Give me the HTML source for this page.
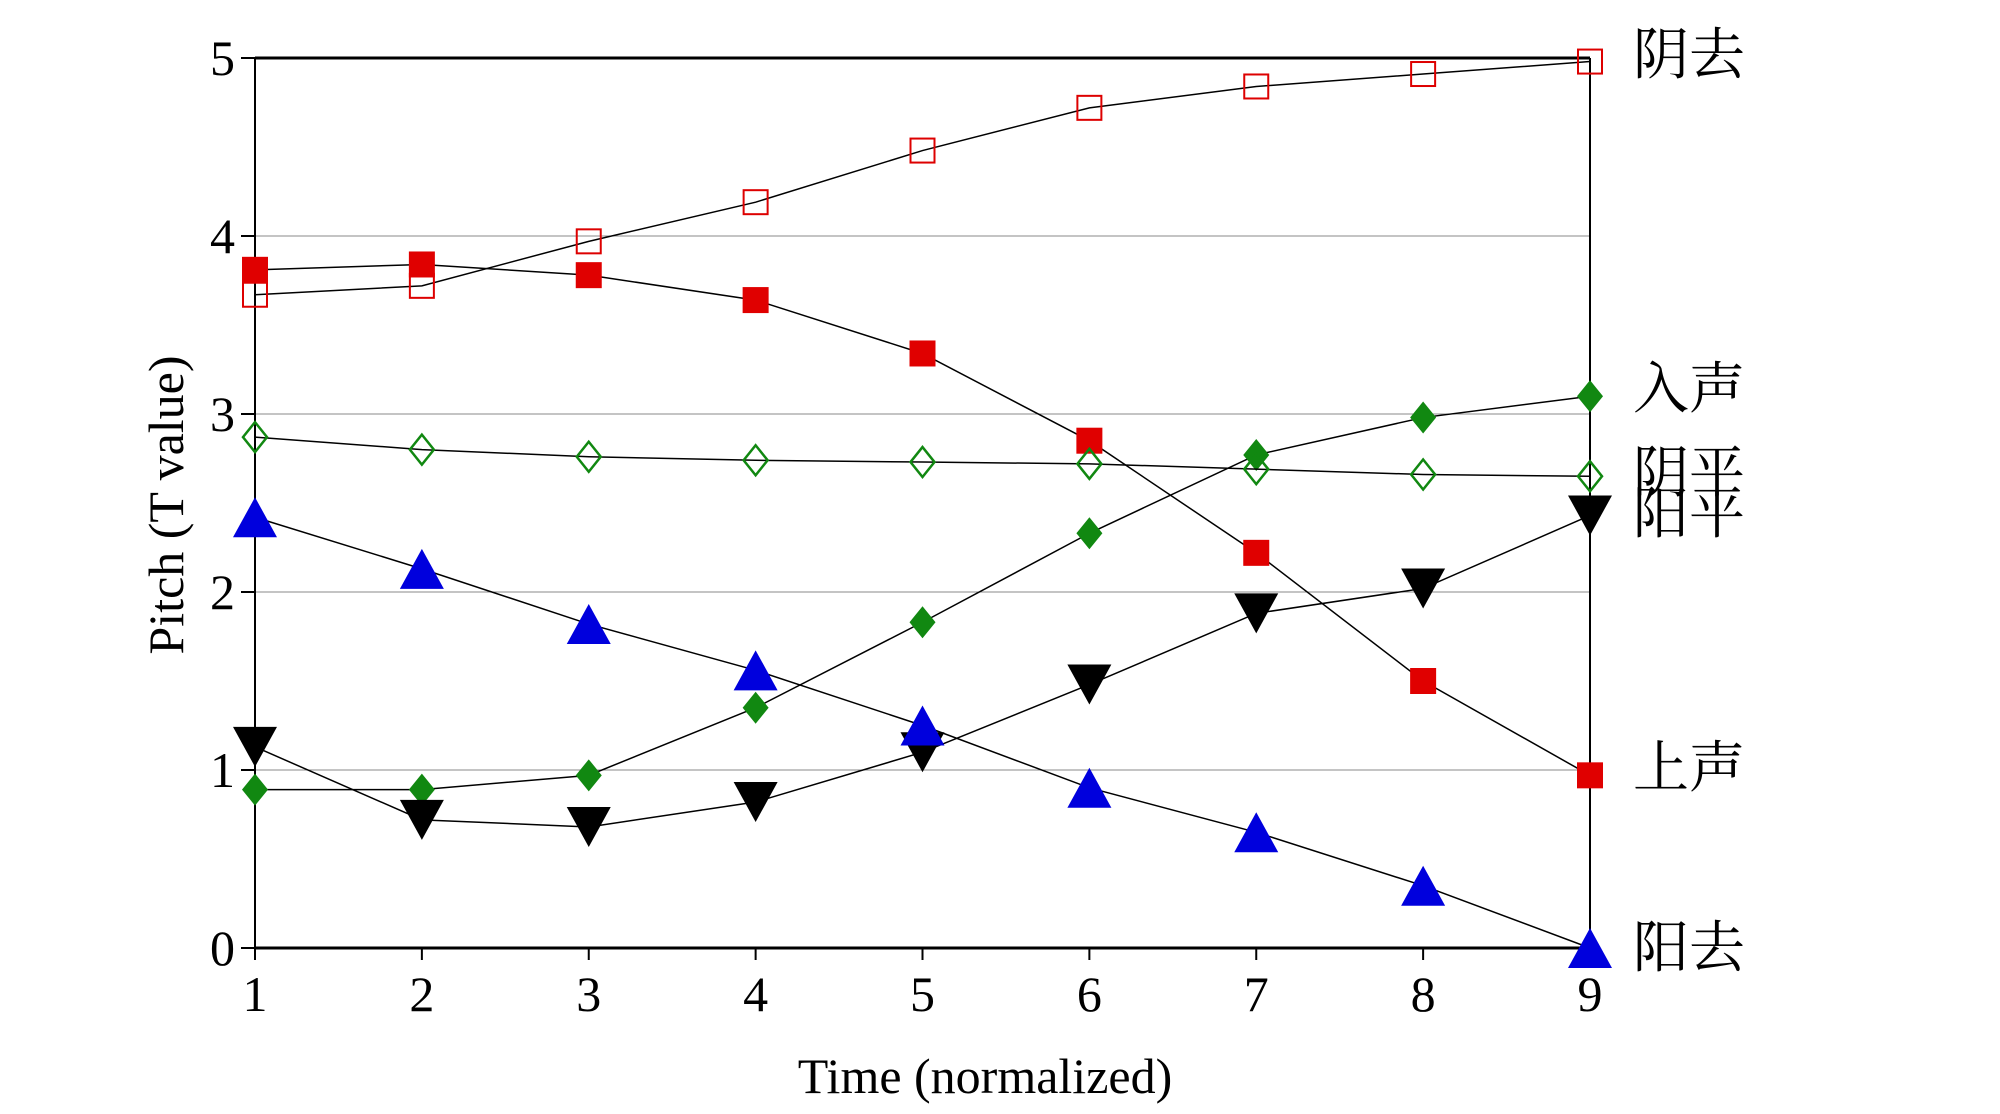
<!DOCTYPE html>
<html><head><meta charset="utf-8"><style>
html,body{margin:0;padding:0;background:#fff;}
svg{display:block;font-family:"Liberation Serif","Noto Serif CJK SC",serif;}
</style></head><body>
<svg id="chart" width="2000" height="1114" xmlns="http://www.w3.org/2000/svg"></svg>
<script>
const xCats = [1,2,3,4,5,6,7,8,9];
const yTicks = [0,1,2,3,4,5];
const yinQu = [3.67,3.72,3.97,4.19,4.48,4.72,4.84,4.91,4.98];
const shangSheng = [3.81,3.84,3.78,3.64,3.34,2.85,2.22,1.50,0.97];
const ruSheng = [0.89,0.89,0.97,1.35,1.83,2.33,2.77,2.98,3.10];
const yinPing = [2.87,2.80,2.76,2.74,2.73,2.72,2.69,2.66,2.65];
const yangPing = [1.13,0.72,0.68,0.82,1.10,1.48,1.88,2.02,2.43];
const yangQu = [2.42,2.13,1.82,1.56,1.25,0.90,0.65,0.35,0.00];
const seriesLabels = ["阴去","入声","阴平","阳平","上声","阳去"];

const NS="http://www.w3.org/2000/svg";
const svg=document.getElementById('chart');
const X0=255,X1=1590,Y0=948,Y1=58;
const xs=v=>X0+(v-1)/(8)*(X1-X0);
const ys=v=>Y0-(v/5)*(Y0-Y1);
function mk(tag,attrs,parent){const e=document.createElementNS(NS,tag);for(const k in attrs)e.setAttribute(k,attrs[k]);(parent||svg).appendChild(e);return e;}

yTicks.forEach(t=>{
  if(t>0&&t<5){const g=mk('line',{x1:X0,x2:X1,y1:ys(t),y2:ys(t),stroke:'#888','stroke-width':1});
  
  }
  const tk=mk('line',{x1:X0-14,x2:X0,y1:ys(t),y2:ys(t),stroke:'#000','stroke-width':2});
  
  
  const tl=mk('text',{x:X0-20,y:ys(t)+17,'text-anchor':'end','font-size':50});
  tl.textContent=t;
  
  
});
xCats.forEach(c=>{
  const tk=mk('line',{x1:xs(c),x2:xs(c),y1:Y0,y2:Y0+12,stroke:'#000','stroke-width':2});
  
  
  const tl=mk('text',{x:xs(c),y:Y0+63,'text-anchor':'middle','font-size':50});
  tl.textContent=c;
  
  
});
[[X0,Y1,X1,Y1,3],[X0,Y0,X1,Y0,3],[X0,Y1,X0,Y0,2],[X1,Y1,X1,Y0,2]].forEach(a=>{
  const l=mk('line',{x1:a[0],y1:a[1],x2:a[2],y2:a[3],stroke:'#000','stroke-width':a[4]});
  
  
});
const xt=mk('text',{x:985,y:1093,'text-anchor':'middle','font-size':50});
xt.textContent='Time (normalized)';


const yt=mk('text',{x:0,y:0,'text-anchor':'middle','font-size':50,transform:'translate(183,505) rotate(-90)'});
yt.textContent='Pitch (T value)';



function marker(type,x,y,g){
  if(type==='sqOpen')return mk('rect',{x:x-12,y:y-12,width:24,height:24,fill:'none',stroke:'#d00','stroke-width':2},g);
  if(type==='sqFill')return mk('rect',{x:x-13,y:y-13,width:26,height:26,fill:'#e00000'},g);
  if(type==='dmFill')return mk('polygon',{points:`${x},${y-16} ${x+13},${y} ${x},${y+16} ${x-13},${y}`,fill:'#118811'},g);
  if(type==='dmOpen')return mk('polygon',{points:`${x},${y-15} ${x+12},${y} ${x},${y+15} ${x-12},${y}`,fill:'none',stroke:'#118811','stroke-width':2.5},g);
  if(type==='triDown')return mk('polygon',{points:`${x-22},${y-20} ${x+22},${y-20} ${x},${y+20}`,fill:'#000'},g);
  if(type==='triUp')return mk('polygon',{points:`${x-22},${y+20} ${x+22},${y+20} ${x},${y-20}`,fill:'#0000dd'},g);
}
const series=[
 [yinQu,'sqOpen','series-yin-qu'],[shangSheng,'sqFill','series-shang-sheng'],
 [ruSheng,'dmFill','series-ru-sheng'],[yinPing,'dmOpen','series-yin-ping'],
 [yangPing,'triDown','series-yang-ping'],[yangQu,'triUp','series-yang-qu']];
series.forEach(s=>{
  const g=mk('g',{});
  
  
  const pl=mk('polyline',{points:s[0].map((v,i)=>xs(xCats[i])+','+ys(v)).join(' '),fill:'none',stroke:'#000','stroke-width':1.5},g);
  
  
  s[0].forEach((v,i)=>{
    const m=marker(s[1],xs(xCats[i]),ys(v),g);
    
    
  });
});
const labelY=[74,408,492,533,787,967];
seriesLabels.forEach((t,i)=>{
  const l=mk('text',{x:1633,y:labelY[i],'font-size':56});
  l.textContent=t;
  
  
});
</script>
</body></html>
